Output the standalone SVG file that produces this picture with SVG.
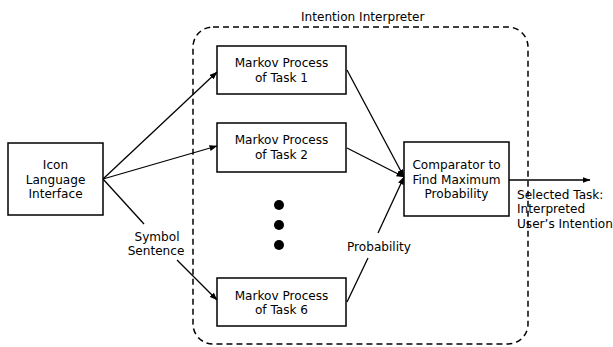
<svg xmlns="http://www.w3.org/2000/svg" width="613" height="347" viewBox="0 0 613 347">
<style>
text{font-family:"DejaVu Sans","Liberation Sans",sans-serif;font-size:12.1px;fill:#000}
.c{text-anchor:middle}
.box{fill:#fff;stroke:#000;stroke-width:1.5}
.ln{stroke:#000;stroke-width:1.3;fill:none}
</style>
<defs>
<marker id="ah" markerWidth="8" markerHeight="6" refX="7.5" refY="3" orient="auto" markerUnits="userSpaceOnUse">
<path d="M0,0 L8,3 L0,6 Z" fill="#000"/>
</marker>
</defs>
<g id="interpreter">
<rect x="193" y="27" width="335" height="317" rx="20" fill="none" stroke="#000" stroke-width="1.5" stroke-dasharray="6,4"/>
<text x="301" y="21">Intention Interpreter</text>
</g>
<g id="connectors">
<line class="ln" x1="103" y1="179" x2="217" y2="72" marker-end="url(#ah)"/>
<line class="ln" x1="103" y1="179" x2="217" y2="146" marker-end="url(#ah)"/>
<line class="ln" x1="103" y1="179" x2="144" y2="224"/>
<line class="ln" x1="177" y1="260" x2="217" y2="300" marker-end="url(#ah)"/>
<line class="ln" x1="347" y1="70" x2="404" y2="177" marker-end="url(#ah)"/>
<line class="ln" x1="347" y1="148" x2="404" y2="177" marker-end="url(#ah)"/>
<line class="ln" x1="347" y1="302" x2="368" y2="258"/>
<line class="ln" x1="378" y1="233" x2="404" y2="177" marker-end="url(#ah)"/>
<line class="ln" x1="509" y1="180" x2="590" y2="180" marker-end="url(#ah)"/>
</g>
<g id="icon-interface">
<rect class="box" x="8" y="143" width="95" height="72"/>
<text class="c" x="55.5" y="169">Icon</text>
<text class="c" x="55.5" y="184">Language</text>
<text class="c" x="55.5" y="198">Interface</text>
</g>
<g id="task1">
<rect class="box" x="217" y="46" width="129" height="48"/>
<text class="c" x="281.5" y="67">Markov Process</text>
<text class="c" x="281.5" y="82">of Task 1</text>
</g>
<g id="task2">
<rect class="box" x="217" y="123" width="129" height="49"/>
<text class="c" x="281.5" y="144">Markov Process</text>
<text class="c" x="281.5" y="159">of Task 2</text>
</g>
<g id="dots">
<circle cx="279" cy="205" r="5"/>
<circle cx="279" cy="225" r="5"/>
<circle cx="279" cy="245" r="5"/>
</g>
<g id="task6">
<rect class="box" x="217" y="278" width="129" height="48"/>
<text class="c" x="281.5" y="300">Markov Process</text>
<text class="c" x="281.5" y="314">of Task 6</text>
</g>
<g id="comparator">
<rect class="box" x="404" y="142" width="105" height="74"/>
<text class="c" x="456.5" y="169">Comparator to</text>
<text class="c" x="456.5" y="184">Find Maximum</text>
<text class="c" x="456.5" y="198">Probability</text>
</g>
<g id="labels">
<text class="c" x="157" y="241">Symbol</text>
<text class="c" x="156" y="255">Sentence</text>
<text class="c" x="379" y="251">Probability</text>
<text x="517" y="199">Selected Task:</text>
<text x="517" y="213">Interpreted</text>
<text x="517" y="228">User’s Intention</text>
</g>
</svg>
